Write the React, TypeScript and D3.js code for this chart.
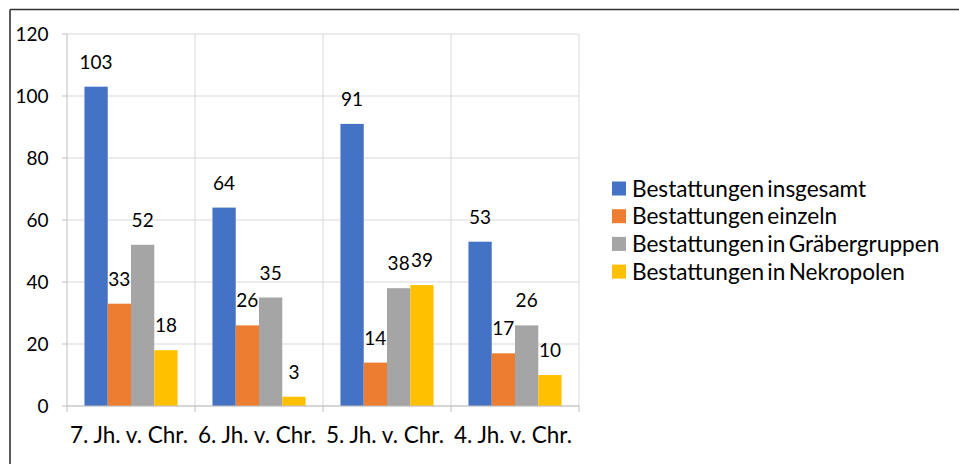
import React from "react";
import * as d3 from "d3";

const categories = ["7. Jh. v. Chr.", "6. Jh. v. Chr.", "5. Jh. v. Chr.", "4. Jh. v. Chr."];
const seriesNames = [
  "Bestattungen insgesamt",
  "Bestattungen einzeln",
  "Bestattungen in Gräbergruppen",
  "Bestattungen in Nekropolen",
];
const insgesamt = [103, 64, 91, 53];
const einzeln = [33, 26, 14, 17];
const graebergruppen = [52, 35, 38, 26];
const nekropolen = [18, 3, 39, 10];
const yTicks = [0, 20, 40, 60, 80, 100, 120];
const colors = ["#4472C4", "#ED7D31", "#A5A5A5", "#FFC000"];

const seriesValues = [insgesamt, einzeln, graebergruppen, nekropolen];

const W = 959;
const H = 464;
const FONT = "Lato, 'Open Sans', sans-serif";

export default function App() {
  const x0 = d3.scaleBand<string>().domain(categories).range([67, 579]).padding(0);
  const bw = x0.bandwidth();
  // gap width 150%: 4 bars + 1.5 bar of gap
  const barW = bw / 5.5;
  const x1 = d3
    .scaleBand<number>()
    .domain([0, 1, 2, 3])
    .range([barW * 0.75, bw - barW * 0.75])
    .padding(0);
  const y = d3.scaleLinear().domain([0, 120]).range([406, 34]);

  const boundaries = [67, ...categories.map((c) => (x0(c) as number) + bw)];

  return (
    <svg
      width={W}
      height={H}
      style={{ position: "absolute", left: 0, top: 0, background: "#fff" }}
      fontFamily={FONT}
    >
      <rect x={0} y={0} width={W} height={H} fill="#fff" />
      {/* outer frame */}
      <line x1={10} y1={9.5} x2={W} y2={9.5} stroke="#333" strokeWidth={1.6} />
      <line x1={10} y1={9.5} x2={10} y2={H} stroke="#333" strokeWidth={1.6} />

      {/* horizontal gridlines */}
      {yTicks.map((t) => (
        <line key={"g" + t} x1={67} x2={579} y1={y(t)} y2={y(t)} stroke="#d9d9d9" strokeWidth={1} />
      ))}
      {/* vertical gridlines */}
      {boundaries.slice(1).map((b) => (
        <line key={"v" + b} x1={b} x2={b} y1={y(120)} y2={y(0)} stroke="#d9d9d9" strokeWidth={1} />
      ))}

      {/* bars */}
      {categories.map((c, ci) =>
        seriesValues.map((vals, si) => {
          const bx = (x0(c) as number) + (x1(si) as number);
          const v = vals[ci];
          return (
            <rect
              key={c + si}
              x={bx}
              y={y(v)}
              width={x1.bandwidth()}
              height={y(0) - y(v)}
              fill={colors[si]}
            />
          );
        })
      )}

      {/* y axis */}
      <line x1={67} x2={67} y1={y(120)} y2={y(0)} stroke="#bfbfbf" strokeWidth={1} />
      {yTicks.map((t) => (
        <g key={"t" + t}>
          <line x1={62} x2={67} y1={y(t)} y2={y(t)} stroke="#bfbfbf" strokeWidth={1} />
          <text x={48.5} y={y(t)} dy="0.36em" textAnchor="end" fontSize={19} fill="#000">
            {t}
          </text>
        </g>
      ))}

      {/* x axis */}
      <line x1={67} x2={579} y1={y(0)} y2={y(0)} stroke="#bfbfbf" strokeWidth={1} />
      {boundaries.map((b) => (
        <line key={"xt" + b} x1={b} x2={b} y1={y(0)} y2={y(0) + 6} stroke="#bfbfbf" strokeWidth={1} />
      ))}
      {categories.map((c) => (
        <text
          key={"xl" + c}
          x={(x0(c) as number) + bw / 2 - 2}
          y={443}
          textAnchor="middle"
          fontSize={22.5}
          fill="#000"
        >
          {c}
        </text>
      ))}

      {/* data labels */}
      {categories.map((c, ci) =>
        seriesValues.map((vals, si) => {
          const bx = (x0(c) as number) + (x1(si) as number) + x1.bandwidth() / 2;
          const v = vals[ci];
          return (
            <text
              key={"dl" + c + si}
              x={bx}
              y={y(v) - 18}
              textAnchor="middle"
              fontSize={19}
              fill="#000"
            >
              {v}
            </text>
          );
        })
      )}

      {/* legend */}
      {seriesNames.map((n, i) => {
        const cy = 188.5 + i * 27.7;
        return (
          <g key={"lg" + i}>
            <rect x={612} y={cy - 7} width={14} height={14} fill={colors[i]} />
            <text x={632} y={cy} dy="0.36em" fontSize={22.6} fill="#000" wordSpacing={-2.5}>
              {n}
            </text>
          </g>
        );
      })}
    </svg>
  );
}
